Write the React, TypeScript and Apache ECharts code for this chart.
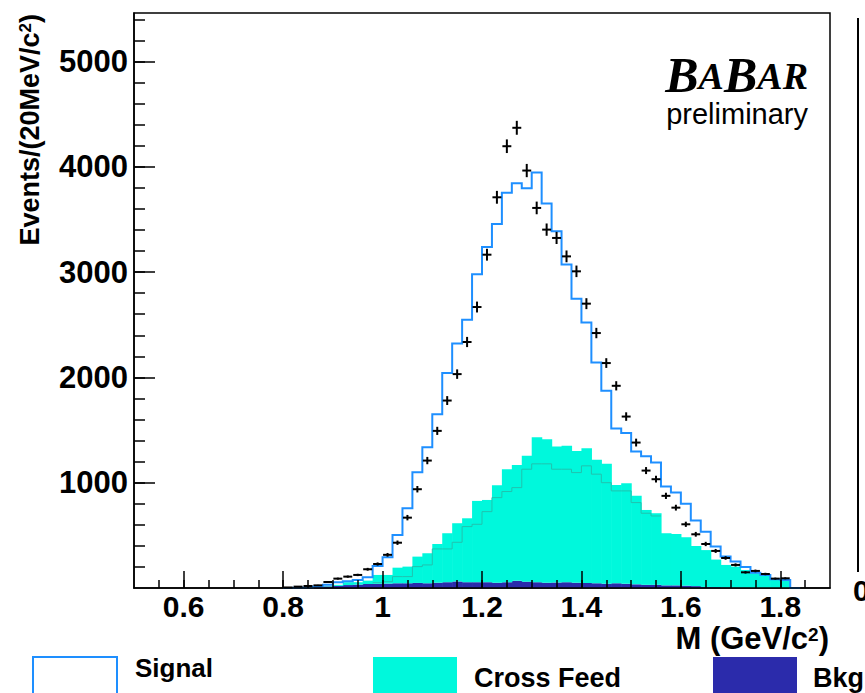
import React, { useEffect, useRef } from 'react';
import * as echarts from 'echarts';

// ---------- data ----------
const BIN_WIDTH = 0.02;
const binStart = [
  0.80, 0.82, 0.84, 0.86, 0.88, 0.90, 0.92, 0.94, 0.96, 0.98,
  1.00, 1.02, 1.04, 1.06, 1.08, 1.10, 1.12, 1.14, 1.16, 1.18,
  1.20, 1.22, 1.24, 1.26, 1.28, 1.30, 1.32, 1.34, 1.36, 1.38,
  1.40, 1.42, 1.44, 1.46, 1.48, 1.50, 1.52, 1.54, 1.56, 1.58,
  1.60, 1.62, 1.64, 1.66, 1.68, 1.70, 1.72, 1.74, 1.76, 1.78,
  1.80, 1.82,
];
// top of stacked Signal (blue outline)
const signalTop = [
  0, 2, 5, 15, 30, 55, 65, 76, 101, 209,
  292, 504, 757, 1100, 1337, 1651, 2041, 2322, 2548, 2979,
  3238, 3457, 3752, 3843, 3796, 3945, 3650, 3387, 3073, 2747,
  2522, 2142, 1873, 1514, 1471, 1296, 1250, 1191, 963, 906,
  800, 640, 535, 395, 300, 252, 200, 145, 124, 83,
  76, 0,
];
// top of stacked Cross Feed (cyan)
const crossFeedTop = [
  0, 0, 2, 5, 20, 30, 55, 55, 70, 124,
  124, 193, 203, 298, 330, 418, 520, 615, 662, 827,
  836, 976, 1128, 1169, 1255, 1432, 1413, 1343, 1350, 1302,
  1328, 1217, 1179, 979, 995, 875, 741, 710, 520, 513,
  482, 399, 360, 270, 219, 203, 171, 140, 124, 83,
  76, 0,
];
// inner cross-feed component outline (darker teal)
const crossFeedInner = [
  null, null, null, null, null, null, null, null, null, 50,
  60, 108, 108, 203, 219, 371, 371, 434, 583, 605,
  725, 858, 916, 953, 1128, 1179, 1179, 1128, 1128, 1096,
  1160, 1081, 1000, 922, 922, 811, 710, 684, null, null,
  null, null, null, null, null, null, null, null, null, null,
  null, null,
];
// top of Bkg (dark blue)
const bkgTop = [
  0, 0, 3, 8, 15, 20, 28, 32, 38, 40,
  42, 45, 45, 48, 45, 50, 55, 62, 55, 55,
  55, 50, 55, 68, 60, 55, 50, 52, 55, 50,
  48, 45, 40, 45, 40, 35, 30, 30, 25, 25,
  22, 18, 10, 8, 5, 3, 2, 0, 0, 0,
  0, 0,
];
// data points
const pointMass = [
  0.81, 0.83, 0.85, 0.87, 0.89, 0.91, 0.93, 0.95, 0.97, 0.99,
  1.01, 1.03, 1.05, 1.07, 1.09, 1.11, 1.13, 1.15, 1.17, 1.19,
  1.21, 1.23, 1.25, 1.27, 1.29, 1.31, 1.33, 1.35, 1.37, 1.39,
  1.41, 1.43, 1.45, 1.47, 1.49, 1.51, 1.53, 1.55, 1.57, 1.59,
  1.61, 1.63, 1.65, 1.67, 1.69, 1.71, 1.73, 1.75, 1.77, 1.79,
  1.81,
];
const pointEvents = [
  5, 13, 19, 25, 57, 89, 108, 124, 178, 228,
  315, 430, 668, 938, 1210, 1492, 1780, 2031, 2336, 2668,
  3165, 3710, 4195, 4370, 3964, 3609, 3403, 3324, 3149, 3007,
  2700, 2421, 2136, 1920, 1628, 1381, 1115, 1033, 875, 763,
  605, 510, 418, 352, 285, 219, 149, 162, 133, 89,
  92,
];

const xMajorTicks = [0.6, 0.8, 1.0, 1.2, 1.4, 1.6, 1.8];
const xMinorTicks = [
  0.55, 0.6, 0.65, 0.7, 0.75, 0.8, 0.85, 0.9, 0.95, 1.0, 1.05, 1.1, 1.15,
  1.2, 1.25, 1.3, 1.35, 1.4, 1.45, 1.5, 1.55, 1.6, 1.65, 1.7, 1.75, 1.8, 1.85,
];
const yMajorTicks = [1000, 2000, 3000, 4000, 5000];
const yMinorTicks = [
  200, 400, 600, 800, 1000, 1200, 1400, 1600, 1800, 2000, 2200, 2400, 2600,
  2800, 3000, 3200, 3400, 3600, 3800, 4000, 4200, 4400, 4600, 4800, 5000,
  5200, 5400,
];

const X_MIN = 0.5;
const X_MAX = 1.9;
const Y_MAX = 5460;

const FONT = '"Liberation Sans", Arial, Helvetica, sans-serif';
const SERIF = '"Liberation Serif", "Times New Roman", serif';
const C_SIGNAL = '#1e8fff';
const C_CROSS = '#00f8dc';
const C_CROSS_INNER = '#20c2ae';
const C_BKG = '#2b2bab';

function stepSegments(api: any, tops: (number | null)[]) {
  const segs: number[][][] = [];
  let cur: number[][] = [];
  let prev: number | null = null;
  for (let i = 0; i < binStart.length; i++) {
    const v = tops[i];
    const x0 = binStart[i];
    const x1 = x0 + BIN_WIDTH;
    if (v === null || v === undefined) {
      if (cur.length) segs.push(cur);
      cur = [];
      prev = null;
      continue;
    }
    if (prev !== null) cur.push(api.coord([x0, prev]));
    cur.push(api.coord([x0, v]));
    cur.push(api.coord([x1, v]));
    prev = v;
  }
  if (cur.length) segs.push(cur);
  return segs;
}

export default function App() {
  const ref = useRef<HTMLDivElement>(null);

  useEffect(() => {
    if (!ref.current) return;
    const chart = echarts.init(ref.current, undefined, { renderer: 'svg' });

    const rectSeries = (lower: number[], upper: number[], color: string) => ({
      type: 'custom',
      xAxisIndex: 0,
      yAxisIndex: 0,
      data: binStart.map((x, i) => [x, x + BIN_WIDTH, lower[i], upper[i]]),
      renderItem: (_p: any, api: any) => {
        const lo = api.value(2) as number;
        const hi = api.value(3) as number;
        if (!(hi > lo)) return null;
        const a = api.coord([api.value(0), hi]);
        const b = api.coord([api.value(1), lo]);
        return {
          type: 'rect',
          shape: { x: a[0], y: a[1], width: b[0] - a[0] + 0.6, height: b[1] - a[1] },
          style: { fill: color, stroke: null },
        };
      },
      silent: true,
      z: 2,
    });

    const outlineSeries = (tops: (number | null)[], color: string, width: number, z: number) => ({
      type: 'custom',
      xAxisIndex: 0,
      yAxisIndex: 0,
      data: [[1.2, 0]],
      renderItem: (_p: any, api: any) => {
        const segs = stepSegments(api, tops);
        return {
          type: 'group',
          children: segs.map((pts) => ({
            type: 'polyline',
            shape: { points: pts },
            style: { stroke: color, lineWidth: width, fill: null },
          })),
        };
      },
      silent: true,
      z,
    });

    const zeros = binStart.map(() => 0);

    const option: any = {
      animation: false,
      backgroundColor: '#ffffff',
      grid: {
        left: 134,
        right: 35,
        top: 13,
        bottom: 105,
        show: true,
        borderColor: '#000',
        borderWidth: 1.5,
        backgroundColor: 'transparent',
      },
      xAxis: [
        {
          type: 'value',
          min: X_MIN,
          max: X_MAX,
          position: 'bottom',
          z: 10,
          axisLine: { show: true, onZero: false, lineStyle: { color: '#000', width: 1.5 } },
          axisTick: {
            show: true,
            inside: true,
            length: 17,
            customValues: xMajorTicks,
            lineStyle: { color: '#000', width: 1.5 },
          },
          axisLabel: {
            show: true,
            customValues: xMajorTicks,
            margin: 5,
            color: '#000',
            fontFamily: FONT,
            fontWeight: 'bold',
            fontSize: 30,
            lineHeight: 26,
            formatter: (v: number) => String(Math.round(v * 10) / 10),
          },
          splitLine: { show: false },
        },
        {
          type: 'value',
          min: X_MIN,
          max: X_MAX,
          position: 'bottom',
          z: 10,
          axisLine: { show: false, onZero: false },
          axisTick: {
            show: true,
            inside: true,
            length: 8,
            customValues: xMinorTicks,
            lineStyle: { color: '#000', width: 1.5 },
          },
          axisLabel: { show: false },
          splitLine: { show: false },
        },
      ],
      yAxis: [
        {
          type: 'value',
          min: 0,
          max: Y_MAX,
          position: 'left',
          z: 10,
          axisLine: { show: true, onZero: false, lineStyle: { color: '#000', width: 1.5 } },
          axisTick: {
            show: true,
            inside: true,
            length: 21,
            customValues: yMajorTicks,
            lineStyle: { color: '#000', width: 1.5 },
          },
          axisLabel: {
            show: true,
            customValues: yMajorTicks,
            margin: 6,
            color: '#000',
            fontFamily: FONT,
            fontWeight: 'bold',
            fontSize: 31,
            formatter: (v: number) => String(v),
          },
          splitLine: { show: false },
        },
        {
          type: 'value',
          min: 0,
          max: Y_MAX,
          position: 'left',
          z: 10,
          axisLine: { show: false, onZero: false },
          axisTick: {
            show: true,
            inside: true,
            length: 11,
            customValues: yMinorTicks,
            lineStyle: { color: '#000', width: 1.5 },
          },
          axisLabel: { show: false },
          splitLine: { show: false },
        },
      ],
      series: [
        rectSeries(zeros, bkgTop, C_BKG),
        rectSeries(bkgTop, crossFeedTop, C_CROSS),
        outlineSeries(crossFeedInner, C_CROSS_INNER, 1, 3),
        outlineSeries(signalTop, C_SIGNAL, 2, 4),
        {
          type: 'custom',
          xAxisIndex: 0,
          yAxisIndex: 0,
          data: pointMass.map((m, i) => [m, pointEvents[i]]),
          renderItem: (_p: any, api: any) => {
            const x = api.value(0) as number;
            const y = api.value(1) as number;
            const err = Math.sqrt(y);
            const top = api.coord([x, y + err]);
            const bot = api.coord([x, Math.max(0, y - err)]);
            const l = api.coord([x - 0.009, y]);
            const r = api.coord([x + 0.009, y]);
            return {
              type: 'group',
              children: [
                { type: 'line', shape: { x1: top[0], y1: top[1], x2: bot[0], y2: bot[1] }, style: { stroke: '#000', lineWidth: 2 } },
                { type: 'line', shape: { x1: l[0], y1: l[1], x2: r[0], y2: r[1] }, style: { stroke: '#000', lineWidth: 2 } },
              ],
            };
          },
          silent: true,
          z: 5,
        },
      ],
      graphic: [
        // y axis title
        {
          type: 'text',
          x: 30,
          y: 14,
          rotation: Math.PI / 2,
          style: {
            text: '{a|Events/(20MeV/c}{s|2}{a|)}',
            align: 'right',
            verticalAlign: 'middle',
            fill: '#000',
            rich: {
              a: { fontFamily: FONT, fontWeight: 'bold', fontSize: 27, fill: '#000' },
              s: { fontFamily: FONT, fontWeight: 'bold', fontSize: 17, verticalAlign: 'top', fill: '#000' },
            },
          },
        },
        // x axis title
        {
          type: 'text',
          x: 829,
          y: 638,
          style: {
            text: '{a|M (GeV/c}{s|2}{a|)}',
            align: 'right',
            verticalAlign: 'middle',
            fill: '#000',
            rich: {
              a: { fontFamily: FONT, fontWeight: 'bold', fontSize: 31, lineHeight: 26, fill: '#000' },
              s: { fontFamily: FONT, fontWeight: 'bold', fontSize: 19, lineHeight: 26, verticalAlign: 'top', fill: '#000' },
            },
          },
        },
        // BaBar logo
        {
          type: 'text',
          x: 808,
          y: 75,
          style: {
            text: '{b|B}{a|A}{b|B}{a|A}{a|R}',
            align: 'right',
            verticalAlign: 'middle',
            fill: '#000',
            rich: {
              b: { fontFamily: SERIF, fontStyle: 'italic', fontWeight: 'bold', fontSize: 50, lineHeight: 40, fill: '#000' },
              a: { fontFamily: SERIF, fontStyle: 'italic', fontWeight: 'bold', fontSize: 38, lineHeight: 40, fill: '#000', verticalAlign: 'bottom' },
            },
          },
        },
        {
          type: 'text',
          x: 808,
          y: 114,
          style: {
            text: 'preliminary',
            align: 'right',
            verticalAlign: 'middle',
            fontFamily: FONT,
            fontSize: 29,
            lineHeight: 26,
            fill: '#000',
          },
        },
        // legend
        {
          type: 'rect',
          shape: { x: 33, y: 657, width: 84, height: 45 },
          style: { fill: '#fff', stroke: C_SIGNAL, lineWidth: 2 },
        },
        {
          type: 'text',
          x: 135,
          y: 668,
          style: { text: 'Signal', align: 'left', verticalAlign: 'middle', fontFamily: FONT, fontWeight: 'bold', fontSize: 26, fill: '#000' },
        },
        {
          type: 'rect',
          shape: { x: 373, y: 657, width: 84, height: 45 },
          style: { fill: C_CROSS },
        },
        {
          type: 'text',
          x: 474,
          y: 678,
          style: { text: 'Cross Feed', align: 'left', verticalAlign: 'middle', fontFamily: FONT, fontWeight: 'bold', fontSize: 27, fill: '#000' },
        },
        {
          type: 'rect',
          shape: { x: 713, y: 657, width: 84, height: 45 },
          style: { fill: C_BKG },
        },
        {
          type: 'text',
          x: 813,
          y: 678,
          style: { text: 'Bkg', align: 'left', verticalAlign: 'middle', fontFamily: FONT, fontWeight: 'bold', fontSize: 27, fill: '#000' },
        },
        // neighbouring panel edge
        {
          type: 'line',
          shape: { x1: 858, y1: 18, x2: 858, y2: 572 },
          style: { stroke: '#000', lineWidth: 2 },
        },
        {
          type: 'text',
          x: 853,
          y: 590,
          style: { text: '0', align: 'left', verticalAlign: 'middle', fontFamily: FONT, fontWeight: 'bold', fontSize: 30, fill: '#000' },
        },
      ],
    };

    chart.setOption(option);
    return () => {
      chart.dispose();
    };
  }, []);

  return (
    <div
      ref={ref}
      style={{ position: 'fixed', left: 0, top: 0, width: 865, height: 693, background: '#fff' }}
    />
  );
}
